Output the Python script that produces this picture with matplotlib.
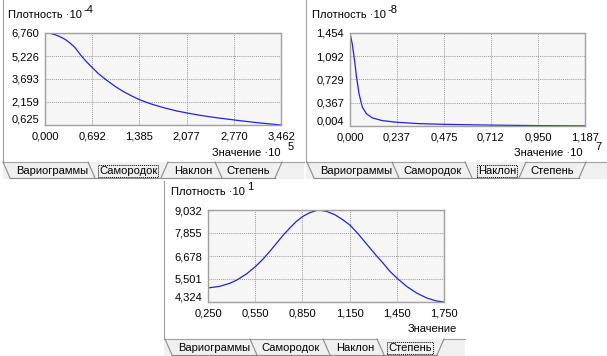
import matplotlib
matplotlib.use('Agg')
import matplotlib.pyplot as plt
from matplotlib.patches import Rectangle

plt.rcParams['font.family'] = ['Liberation Sans', 'DejaVu Sans']

W, H = 607, 356

# ---------------- data ----------------
tab_names = ['Вариограммы', 'Самородок', 'Наклон', 'Степень']

p1_x = [0.000, 0.073, 0.147, 0.220, 0.294, 0.367, 0.441, 0.534, 0.612, 0.695,
        0.784, 0.906, 1.028, 1.151, 1.273, 1.386, 1.543, 1.738, 1.934, 2.086,
        2.277, 2.473, 2.781, 3.110, 3.462]
p1_y = [6.760, 6.738, 6.649, 6.515, 6.338, 6.093, 5.782, 5.226, 4.826, 4.448,
        4.048, 3.603, 3.203, 2.848, 2.558, 2.314, 2.047, 1.781, 1.558, 1.425,
        1.269, 1.136, 0.958, 0.780, 0.625]
p1_xticks = [0.000, 0.692, 1.385, 2.077, 2.770, 3.462]
p1_yticks = [0.625, 2.159, 3.693, 5.226, 6.760]

p2_x = [0.0, 0.0118, 0.0235, 0.0336, 0.0454, 0.062, 0.082, 0.113, 0.163, 0.237,
        0.348, 0.475, 0.712, 0.950, 1.187]
p2_y = [1.454, 1.275, 1.013, 0.750, 0.510, 0.300, 0.198, 0.130, 0.088, 0.062,
        0.041, 0.030, 0.018, 0.010, 0.006]
p2_xticks = [0.000, 0.237, 0.475, 0.712, 0.950, 1.187]
p2_yticks = [0.004, 0.367, 0.729, 1.092, 1.454]

p3_x = [0.250, 0.324, 0.388, 0.430, 0.494, 0.551, 0.600, 0.643, 0.685, 0.727,
        0.770, 0.812, 0.850, 0.897, 0.950, 1.003, 1.056, 1.109, 1.154, 1.205,
        1.258, 1.311, 1.364, 1.406, 1.455, 1.512, 1.576, 1.640, 1.703, 1.750]
p3_y = [5.040, 5.126, 5.279, 5.433, 5.757, 6.132, 6.524, 6.917, 7.326, 7.736,
        8.111, 8.452, 8.691, 8.896, 9.032, 8.964, 8.793, 8.520, 8.247, 7.804,
        7.292, 6.780, 6.303, 5.893, 5.518, 5.126, 4.785, 4.529, 4.375, 4.324]
p3_xticks = [0.250, 0.550, 0.850, 1.150, 1.450, 1.750]
p3_yticks = [4.324, 5.501, 6.678, 7.855, 9.032]

y_exp = ['-4', '-8', '1']
x_exp = ['5', '7', '']

FS = 8.0
GRAY = '#a0a0a0'
EDGE = '#8a8a8a'


def fmt(v):
    return f'{v:.3f}'.replace('.', ',')


def rect(l, t, r, b):
    return [l / W, 1 - b / H, (r - l) / W, (b - t) / H]


fig = plt.figure(figsize=(W / 100, H / 100), dpi=100)
fig.patch.set_facecolor('white')

ov = fig.add_axes([0, 0, 1, 1])
ov.set_xlim(0, W)
ov.set_ylim(H, 0)
ov.axis('off')
ov.set_zorder(0)


def panel(box, x, y, xt, yt):
    ax = fig.add_axes(rect(*box))
    ax.set_zorder(1)
    ax.set_facecolor('#f6f6f6')
    for sp in ax.spines.values():
        sp.set_color(GRAY)
        sp.set_linewidth(1.0)
    ax.plot(x, y, color='#2222dd', lw=0.9, solid_joinstyle='round')
    ax.set_xlim(xt[0], xt[-1])
    ax.set_ylim(yt[0], yt[-1])
    ax.set_xticks(xt, labels=[fmt(v) for v in xt])
    ax.set_yticks(yt, labels=[fmt(v) for v in yt])
    ax.tick_params(axis='both', length=0, labelsize=FS, colors='black')
    ax.tick_params(axis='y', pad=4.3)
    ax.tick_params(axis='x', pad=4.5)
    ax.grid(True, color=GRAY, ls=(0, (1, 1)), lw=0.75)
    ax.set_axisbelow(True)
    ax.get_yticklabels()[0].set_va('bottom')
    return ax


panel((45, 33, 281, 125), p1_x, p1_y, p1_xticks, p1_yticks)
panel((350, 33, 585, 126), p2_x, p2_y, p2_xticks, p2_yticks)
panel((208, 210, 444, 302), p3_x, p3_y, p3_xticks, p3_yticks)

# ---------------- frame borders ----------------
ov.plot([2.5, 2.5], [0, 162], color=GRAY, lw=0.8)
ov.plot([305.5, 305.5], [0, 162], color=GRAY, lw=0.8)
ov.plot([163.5, 163.5], [181, 339], color=GRAY, lw=0.8)

# ---------------- titles ----------------
ylab = [(8, 15, 83, 10), (312, 15, 387, 10), (171, 192, 247, 187)]
for (lx, ly, sx, sy), e in zip(ylab, y_exp):
    ov.text(lx, ly, 'Плотность ·10', fontsize=FS, ha='left', va='center')
    ov.text(sx, sy, e, fontsize=FS, ha='left', va='center')

xlab = [(280, 153, 288, 147), (582, 153, 595, 147), (457, 329, 0, 0)]
for (lx, ly, sx, sy), e in zip(xlab, x_exp):
    ov.text(lx, ly, 'Значение ·10' if e else 'Значение', fontsize=FS,
            ha='right', va='center')
    if e:
        ov.text(sx, sy, e, fontsize=FS, ha='left', va='center')

# ---------------- tab strips ----------------
edge_off = [0, 85, 158, 212, 272]
text_off = [49, 125, 190, 245]
SL = 7


def tabs(s, top, bot, sl, sr, sel):
    ov.add_patch(Rectangle((sl, top), sr - sl, bot - top, fc='#f0f0f0', ec='none'))
    e = [s + o for o in edge_off]
    L = e[sel]
    R = e[sel + 1] + SL
    ov.plot([sl, L], [top, top], color=GRAY, lw=0.8)
    ov.plot([R, sr], [top, top], color=GRAY, lw=0.8)
    ov.plot([e[0] + SL, e[4]], [bot - 1, bot - 1], color=EDGE, lw=0.8)
    for i, x0 in enumerate(e):
        if i == sel + 1 or i == 4:
            ov.plot([x0, x0 + SL], [bot - 1, top], color=EDGE, lw=0.8)
        else:
            ov.plot([x0, x0 + SL], [top, bot - 1], color=EDGE, lw=0.8)
    for i, (name, to) in enumerate(zip(tab_names, text_off)):
        kw = {}
        if i == sel:
            kw['bbox'] = dict(boxstyle='square,pad=0.1', fc='none', ec='black',
                              ls=(0, (1, 1)), lw=0.7)
        ov.text(s + to, (top + bot) / 2 + 0.5, name, fontsize=FS, ha='center',
                va='center', **kw)


tabs(3, 162, 179, 3, 304, 1)
tabs(307, 162, 179, 306, 607, 2)
tabs(165, 339, 356, 164, 465, 3)

fig.savefig('out.png', dpi=100, facecolor='white')
